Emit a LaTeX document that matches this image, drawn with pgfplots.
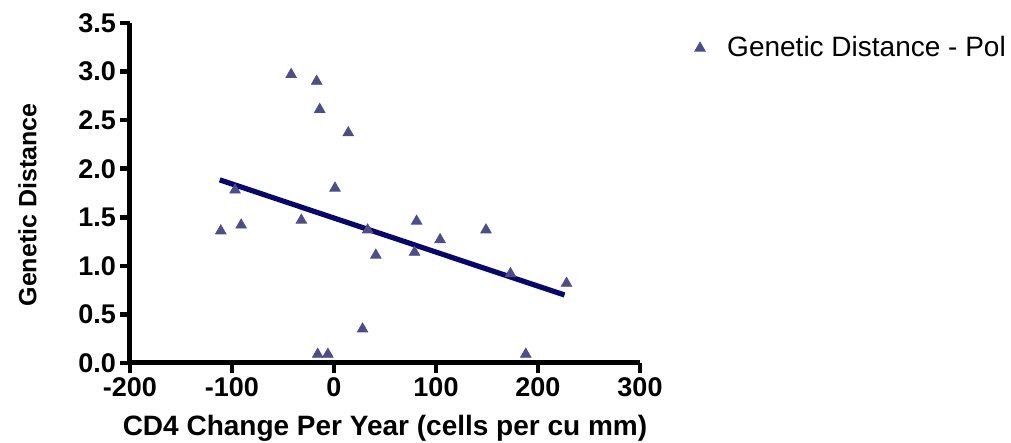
\documentclass[border=0pt]{standalone}
\usepackage{fontspec}
\setmainfont{Liberation Sans}
\usepackage{pgfplots}
\pgfplotsset{compat=1.18}
\definecolor{ptPurple}{HTML}{4E4C8E}
\definecolor{fitNavy}{HTML}{06066E}
\begin{document}
\begin{tikzpicture}
\begin{axis}[
  name=ax,
  scale only axis,
  width=255pt, height=170pt,
  xmin=-200, xmax=300, ymin=0, ymax=3.5,
  axis lines*=left,
  axis line style={line width=2.5pt, -},
  every outer x axis line/.append style={line width=2.5pt},
  every outer y axis line/.append style={line width=2.5pt},
  xtick={-200,-100,0,100,200,300},
  ytick={0,0.5,1,1.5,2,2.5,3,3.5},
  tick align=outside,
  major tick length=5pt,
  tick style={line width=2.3pt, black},
  /pgf/number format/assume math mode=true,
  yticklabel style={/pgf/number format/fixed, /pgf/number format/fixed zerofill,
    /pgf/number format/precision=1, xshift=1.5pt},
  tick label style={font=\bfseries\fontsize{13.5}{14}\selectfont},
  xticklabel style={yshift=1pt},
  xlabel={CD4 Change Per Year (cells per cu mm)},
  ylabel={Genetic Distance},
  xlabel style={font=\bfseries\fontsize{14}{15}\selectfont, yshift=-2pt},
  ylabel style={font=\bfseries\fontsize{12.5}{14}\selectfont, yshift=14pt, xshift=-6pt},
  clip=false,
  legend style={at={(1.095,0.926)}, anchor=west, draw=none, fill=none,
    font=\fontsize{14}{15}\selectfont, column sep=9pt},
  legend cell align=left,
]
\addplot[only marks, mark=triangle*, mark size=3pt, color=ptPurple] coordinates {
  (-42,2.97) (-17,2.90) (-14,2.61) (14,2.37) (1,1.80) (-97,1.78)
  (-111,1.36) (-91,1.42) (-32,1.47) (33,1.37) (41,1.11) (28,0.35)
  (-16,0.09) (-6,0.09) (81,1.46) (104,1.27) (79,1.14) (149,1.37)
  (173,0.92) (228,0.82) (188,0.09)
};
\addlegendentry{Genetic Distance - Pol}
\addplot[line width=2.6pt, color=fitNavy, forget plot] coordinates {
  (-112,1.885) (226,0.70)
};
\end{axis}
\pgfresetboundingbox
\useasboundingbox ([xshift=-65pt,yshift=-40pt]ax.south west) rectangle ([xshift=440.5pt,yshift=181.5pt]ax.south west);
\end{tikzpicture}
\end{document}
